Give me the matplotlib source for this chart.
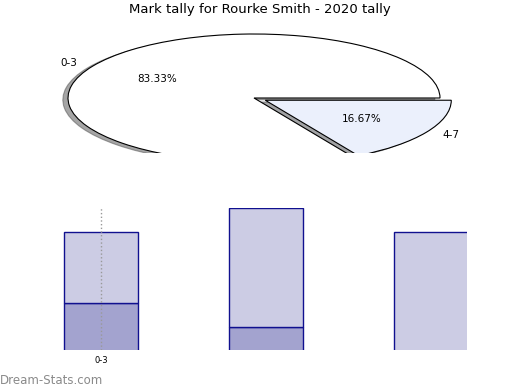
import numpy as np
import matplotlib
matplotlib.use("Agg")
import matplotlib.pyplot as plt

# pie data
pie_labels = ["0-3", "4-7"]
pie_values = [5, 1]
pie_colors = ["#ffffff", "#ebf0fc"]
pie_explode = [0, 0.07]

# stacked bar data
bar_cats = ["0-3", "4-7", "8-10"]
bar_lower = [2, 1, 0]
bar_upper = [3, 5, 5]

W, H = 520, 390
fig = plt.figure(figsize=(5.2, 3.9), dpi=100)

def px_axes(left, top, right, bottom):
    return fig.add_axes([left / W, 1 - bottom / H, (right - left) / W, (bottom - top) / H])

# pie axes, stretched so the pie comes out as a flat ellipse
cx, cy, rx, ry = 254, 98, 186, 64
axp = px_axes(0, 25, 520, 153)
axp.pie(pie_values, labels=pie_labels, colors=pie_colors, explode=pie_explode,
        autopct="%.2f%%", startangle=0, shadow=True,
        wedgeprops=dict(edgecolor="black", linewidth=0.8),
        textprops=dict(fontsize=7.5))
for p in axp.patches:
    p.set_clip_on(True)
    p.set_clip_path(axp.patch)
axp.set_aspect("auto")
axp.set_xlim(-cx / rx, (W - cx) / rx)
axp.set_ylim(-(153 - cy) / ry, (cy - 25) / ry)
axp.axis("off")

fig.text(0.5, 1 - 10 / H, "Mark tally for Rourke Smith - 2020 tally",
         ha="center", va="center", fontsize=9.5)

# bar axes
axb = px_axes(19, 208, 467, 350)
x = np.arange(len(bar_cats))
bw = 0.45
axb.bar(x, bar_lower, bw, color="#a3a3cf", edgecolor="#10108f", linewidth=1)
axb.bar(x, bar_upper, bw, bottom=bar_lower, color="#cccce4", edgecolor="#10108f", linewidth=1)
axb.set_xlim(-0.5, 2 + 36 / 164)
axb.set_ylim(0.05, 6)
axb.set_xticks([x[0]])
axb.set_xticklabels([bar_cats[0]], fontsize=6)
axb.set_yticks([])
axb.tick_params(axis="x", length=0, pad=4)
axb.grid(axis="x", linestyle=":", color="#999999", linewidth=1)
axb.set_axisbelow(False)
for s in axb.spines.values():
    s.set_visible(False)

fig.text(0, 1 - 380 / H, "Dream-Stats.com", ha="left", va="center",
         fontsize=8.5, color="#8a8a8a")

fig.savefig("out.png", dpi=100)
